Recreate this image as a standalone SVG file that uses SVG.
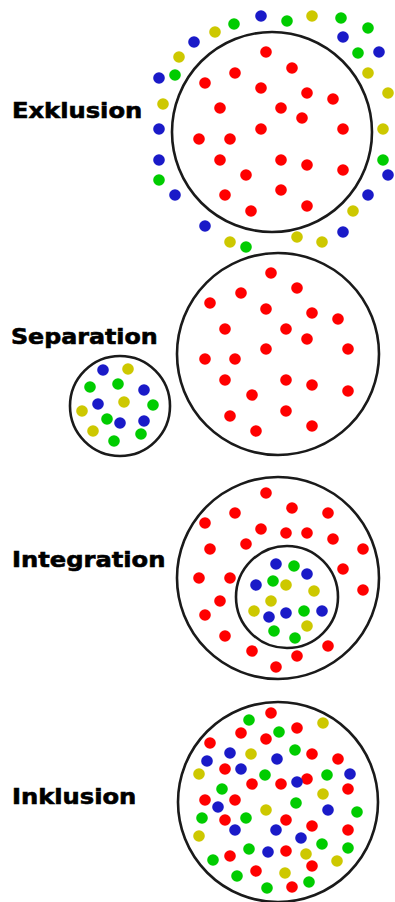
<svg xmlns="http://www.w3.org/2000/svg" width="395" height="902" viewBox="0 0 395 902">
<style>
.bg{fill:#fff}
.ring{fill:none;stroke:#1a1a1a;stroke-width:2.6}
.lbl{font-family:"DejaVu Sans","Liberation Sans",sans-serif;font-weight:bold;font-size:22px;fill:#000;stroke:#000;stroke-width:0.6}
circle.d{r:5.8px}
.r{fill:#ff0000}.g{fill:#00cc00}.b{fill:#1a1ac8}.y{fill:#cdc800}
</style>
<rect class="bg" width="395" height="902"/>

<g id="exklusion">
<text class="lbl" transform="translate(12,118) scale(1.1,1)">Exklusion</text>
<circle class="ring" cx="272" cy="132" r="100"/>
<g>
<circle class="d r" cx="266" cy="52"/><circle class="d r" cx="292" cy="68"/><circle class="d r" cx="235" cy="73"/><circle class="d r" cx="205" cy="83"/><circle class="d r" cx="261" cy="88"/><circle class="d r" cx="307" cy="93"/><circle class="d r" cx="333" cy="99"/><circle class="d r" cx="220" cy="108"/><circle class="d r" cx="281" cy="108"/><circle class="d r" cx="302" cy="118"/><circle class="d r" cx="261" cy="129"/><circle class="d r" cx="343" cy="129"/><circle class="d r" cx="199" cy="139"/><circle class="d r" cx="230" cy="139"/><circle class="d r" cx="220" cy="160"/><circle class="d r" cx="281" cy="160"/><circle class="d r" cx="307" cy="165"/><circle class="d r" cx="343" cy="170"/><circle class="d r" cx="246" cy="175"/><circle class="d r" cx="281" cy="190"/><circle class="d r" cx="225" cy="195"/><circle class="d r" cx="307" cy="206"/><circle class="d r" cx="251" cy="211"/>
</g>
<g>
<circle class="d b" cx="261" cy="16"/><circle class="d g" cx="287" cy="21"/><circle class="d y" cx="312" cy="16"/><circle class="d g" cx="341" cy="18"/><circle class="d g" cx="368" cy="28"/><circle class="d b" cx="343" cy="37"/><circle class="d g" cx="358" cy="53"/><circle class="d b" cx="379" cy="52"/><circle class="d y" cx="368" cy="73"/><circle class="d y" cx="388" cy="93"/><circle class="d g" cx="234" cy="24"/><circle class="d y" cx="215" cy="32"/><circle class="d b" cx="194" cy="42"/><circle class="d y" cx="179" cy="57"/><circle class="d g" cx="175" cy="75"/><circle class="d b" cx="159" cy="78"/><circle class="d y" cx="163" cy="104"/><circle class="d b" cx="159" cy="129"/><circle class="d y" cx="383" cy="129"/><circle class="d b" cx="159" cy="160"/><circle class="d g" cx="383" cy="160"/><circle class="d g" cx="159" cy="180"/><circle class="d b" cx="388" cy="175"/><circle class="d b" cx="175" cy="195"/><circle class="d b" cx="368" cy="195"/><circle class="d y" cx="353" cy="211"/><circle class="d b" cx="205" cy="226"/><circle class="d b" cx="343" cy="232"/><circle class="d y" cx="297" cy="237"/><circle class="d y" cx="322" cy="242"/><circle class="d y" cx="230" cy="242"/><circle class="d g" cx="246" cy="247"/>
</g>
</g>

<g id="separation">
<text class="lbl" transform="translate(11,344) scale(1.08,1)">Separation</text>
<circle class="ring" cx="278" cy="354" r="101"/>
<g>
<circle class="d r" cx="271" cy="273"/><circle class="d r" cx="297" cy="288"/><circle class="d r" cx="241" cy="293"/><circle class="d r" cx="210" cy="303"/><circle class="d r" cx="266" cy="309"/><circle class="d r" cx="312" cy="313"/><circle class="d r" cx="338" cy="319"/><circle class="d r" cx="225" cy="329"/><circle class="d r" cx="286" cy="329"/><circle class="d r" cx="307" cy="339"/><circle class="d r" cx="266" cy="349"/><circle class="d r" cx="348" cy="349"/><circle class="d r" cx="205" cy="359"/><circle class="d r" cx="235" cy="359"/><circle class="d r" cx="225" cy="380"/><circle class="d r" cx="286" cy="380"/><circle class="d r" cx="312" cy="385"/><circle class="d r" cx="348" cy="391"/><circle class="d r" cx="252" cy="395"/><circle class="d r" cx="230" cy="416"/><circle class="d r" cx="286" cy="411"/><circle class="d r" cx="312" cy="426"/><circle class="d r" cx="256" cy="431"/>
</g>
<circle class="ring" cx="120" cy="406" r="50"/>
<g>
<circle class="d b" cx="103" cy="370"/><circle class="d y" cx="128" cy="369"/><circle class="d g" cx="90" cy="387"/><circle class="d g" cx="118" cy="384"/><circle class="d b" cx="144" cy="390"/><circle class="d b" cx="98" cy="404"/><circle class="d y" cx="124" cy="402"/><circle class="d g" cx="153" cy="405"/><circle class="d y" cx="82" cy="411"/><circle class="d g" cx="107" cy="419"/><circle class="d b" cx="120" cy="423"/><circle class="d b" cx="144" cy="421"/><circle class="d y" cx="93" cy="431"/><circle class="d g" cx="141" cy="434"/><circle class="d g" cx="114" cy="441"/>
</g>
</g>

<g id="integration">
<text class="lbl" transform="translate(12,567) scale(1.1,1)">Integration</text>
<circle class="ring" cx="278" cy="578" r="101"/>
<g>
<circle class="d r" cx="266" cy="493"/><circle class="d r" cx="292" cy="508"/><circle class="d r" cx="235" cy="513"/><circle class="d r" cx="328" cy="513"/><circle class="d r" cx="205" cy="523"/><circle class="d r" cx="261" cy="529"/><circle class="d r" cx="286" cy="533"/><circle class="d r" cx="307" cy="533"/><circle class="d r" cx="333" cy="539"/><circle class="d r" cx="246" cy="544"/><circle class="d r" cx="210" cy="549"/><circle class="d r" cx="363" cy="549"/><circle class="d r" cx="343" cy="569"/><circle class="d r" cx="199" cy="578"/><circle class="d r" cx="230" cy="578"/><circle class="d r" cx="363" cy="590"/><circle class="d r" cx="220" cy="601"/><circle class="d r" cx="205" cy="615"/><circle class="d r" cx="225" cy="636"/><circle class="d r" cx="328" cy="646"/><circle class="d r" cx="252" cy="651"/><circle class="d r" cx="297" cy="656"/><circle class="d r" cx="276" cy="667"/>
</g>
<circle class="ring" cx="287" cy="597" r="51"/>
<g>
<circle class="d b" cx="276" cy="564"/><circle class="d g" cx="294" cy="566"/><circle class="d b" cx="307" cy="574"/><circle class="d b" cx="256" cy="585"/><circle class="d g" cx="273" cy="581"/><circle class="d y" cx="286" cy="585"/><circle class="d y" cx="314" cy="591"/><circle class="d y" cx="271" cy="601"/><circle class="d y" cx="254" cy="611"/><circle class="d b" cx="269" cy="617"/><circle class="d b" cx="286" cy="613"/><circle class="d g" cx="304" cy="611"/><circle class="d b" cx="322" cy="611"/><circle class="d y" cx="307" cy="626"/><circle class="d g" cx="274" cy="631"/><circle class="d g" cx="295" cy="638"/>
</g>
</g>

<g id="inklusion">
<text class="lbl" transform="translate(12,804) scale(1.1,1)">Inklusion</text>
<circle class="ring" cx="278" cy="802" r="100"/>
<g>
<circle class="d g" cx="249" cy="720"/><circle class="d r" cx="271" cy="713"/><circle class="d y" cx="323" cy="723"/><circle class="d r" cx="241" cy="733"/><circle class="d g" cx="279" cy="732"/><circle class="d r" cx="297" cy="728"/><circle class="d r" cx="266" cy="739"/><circle class="d r" cx="210" cy="743"/><circle class="d b" cx="230" cy="753"/><circle class="d y" cx="251" cy="754"/><circle class="d g" cx="295" cy="750"/><circle class="d r" cx="312" cy="754"/><circle class="d b" cx="207" cy="761"/><circle class="d b" cx="277" cy="759"/><circle class="d r" cx="338" cy="759"/><circle class="d r" cx="225" cy="769"/><circle class="d b" cx="241" cy="769"/><circle class="d y" cx="199" cy="774"/><circle class="d g" cx="265" cy="775"/><circle class="d g" cx="327" cy="775"/><circle class="d b" cx="350" cy="774"/><circle class="d r" cx="307" cy="779"/><circle class="d b" cx="297" cy="782"/><circle class="d r" cx="281" cy="784"/><circle class="d r" cx="252" cy="784"/><circle class="d g" cx="222" cy="789"/><circle class="d r" cx="348" cy="789"/><circle class="d y" cx="323" cy="794"/><circle class="d r" cx="205" cy="800"/><circle class="d r" cx="235" cy="800"/><circle class="d b" cx="218" cy="807"/><circle class="d g" cx="296" cy="803"/><circle class="d y" cx="266" cy="810"/><circle class="d b" cx="328" cy="810"/><circle class="d g" cx="357" cy="812"/><circle class="d g" cx="202" cy="818"/><circle class="d r" cx="225" cy="820"/><circle class="d g" cx="246" cy="818"/><circle class="d r" cx="286" cy="820"/><circle class="d r" cx="312" cy="826"/><circle class="d b" cx="235" cy="830"/><circle class="d b" cx="276" cy="830"/><circle class="d r" cx="348" cy="830"/><circle class="d y" cx="199" cy="836"/><circle class="d b" cx="301" cy="838"/><circle class="d g" cx="322" cy="844"/><circle class="d g" cx="249" cy="849"/><circle class="d b" cx="268" cy="852"/><circle class="d r" cx="286" cy="851"/><circle class="d g" cx="348" cy="848"/><circle class="d y" cx="306" cy="854"/><circle class="d g" cx="213" cy="860"/><circle class="d r" cx="230" cy="856"/><circle class="d y" cx="337" cy="861"/><circle class="d r" cx="312" cy="866"/><circle class="d r" cx="256" cy="871"/><circle class="d y" cx="285" cy="873"/><circle class="d g" cx="237" cy="876"/><circle class="d g" cx="309" cy="882"/><circle class="d g" cx="267" cy="888"/><circle class="d r" cx="292" cy="887"/>
</g>
</g>
</svg>
